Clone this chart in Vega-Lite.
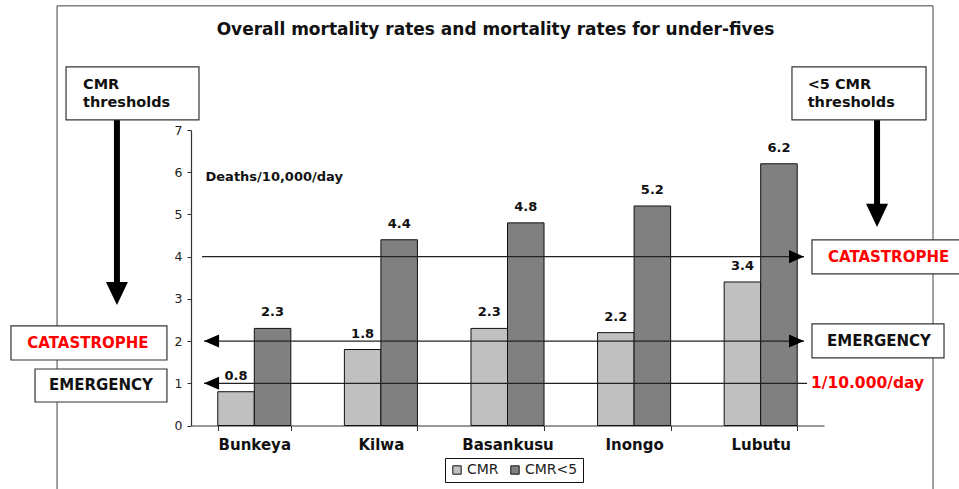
{
  "$schema": "https://vega.github.io/schema/vega-lite/v6.json",
  "width": 633,
  "height": 295.5,
  "autosize": {"type": "none"},
  "padding": {"left": 191, "top": 130, "right": 135, "bottom": 63.5},
  "background": "white",
  "config": {"view": {"stroke": null}, "font": "DejaVu Sans"},
  "datasets": {
    "rates": [
      {"site": "Bunkeya", "series": "CMR", "value": 0.8},
      {"site": "Bunkeya", "series": "CMR<5", "value": 2.3},
      {"site": "Kilwa", "series": "CMR", "value": 1.8},
      {"site": "Kilwa", "series": "CMR<5", "value": 4.4},
      {"site": "Basankusu", "series": "CMR", "value": 2.3},
      {"site": "Basankusu", "series": "CMR<5", "value": 4.8},
      {"site": "Inongo", "series": "CMR", "value": 2.2},
      {"site": "Inongo", "series": "CMR<5", "value": 5.2},
      {"site": "Lubutu", "series": "CMR", "value": 3.4},
      {"site": "Lubutu", "series": "CMR<5", "value": 6.2}
    ],
    "frame": [{"u": -1.058, "u2": 5.861, "v": 9.941, "v2": -1.8}],
    "thresholds": [
      {"v": 4, "u": 0.087, "u2": 4.842},
      {"v": 2, "u": 0.103, "u2": 4.842},
      {"v": 1, "u": 0.103, "u2": 4.866}
    ],
    "heads": [
      {"u": 4.842, "v": 4, "dir": "right"},
      {"u": 4.842, "v": 2, "dir": "right"},
      {"u": 0.103, "v": 2, "dir": "left"},
      {"u": 0.103, "v": 1, "dir": "left"}
    ],
    "shafts": [
      {"u": -0.585, "v": 7.239, "v2": 3.377},
      {"u": 5.419, "v": 7.239, "v2": 5.225}
    ],
    "bigheads": [
      {"u": -0.585, "v": 2.855},
      {"u": 5.419, "v": 4.704}
    ],
    "boxes": [
      {"u": -0.987, "u2": 0.063, "v": 8.495, "v2": 7.239},
      {"u": 4.747, "u2": 5.806, "v": 8.495, "v2": 7.239},
      {"u": -1.422, "u2": -0.19, "v": 2.358, "v2": 1.552},
      {"u": -1.232, "u2": -0.19, "v": 1.339, "v2": 0.557},
      {"u": 4.905, "u2": 6.074, "v": 4.396, "v2": 3.59},
      {"u": 4.905, "u2": 5.948, "v": 2.405, "v2": 1.6}
    ],
    "notes": [
      {"label": "Overall mortality rates and mortality rates for under-fives", "u": 2.405, "v": 9.254, "kind": "title"},
      {"label": "CMR", "u": -0.853, "v": 8.069, "kind": "header"},
      {"label": "thresholds", "u": -0.853, "v": 7.642, "kind": "header"},
      {"label": "<5 CMR", "u": 4.871, "v": 8.069, "kind": "header"},
      {"label": "thresholds", "u": 4.871, "v": 7.642, "kind": "header"},
      {"label": "CATASTROPHE", "u": -0.814, "v": 1.955, "kind": "catastrophe"},
      {"label": "EMERGENCY", "u": -0.711, "v": 0.948, "kind": "emergency"},
      {"label": "CATASTROPHE", "u": 5.51, "v": 3.993, "kind": "catastrophe"},
      {"label": "EMERGENCY", "u": 5.434, "v": 2.002, "kind": "emergency"},
      {"label": "1/10.000/day", "u": 4.897, "v": 1.007, "kind": "baseline"}
    ]
  },
  "resolve": {"scale": {"x": "independent", "y": "independent"}},
  "layer": [
    {
      "data": {"name": "frame"},
      "mark": {"type": "rect", "fill": "transparent", "stroke": "#444", "strokeWidth": 1},
      "encoding": {
        "x": {"field": "u", "type": "quantitative", "scale": {"domain": [0, 5], "nice": false, "zero": false}, "axis": null},
        "x2": {"field": "u2"},
        "y": {"field": "v", "type": "quantitative", "scale": {"domain": [0, 7], "nice": false}, "axis": null},
        "y2": {"field": "v2"}
      }
    },
    {
      "data": {"name": "rates"},
      "mark": {"type": "bar", "stroke": "#111", "strokeWidth": 1},
      "encoding": {
        "x": {
          "field": "site", "type": "nominal",
          "sort": ["Bunkeya", "Kilwa", "Basankusu", "Inongo", "Lubutu"],
          "scale": {"paddingInner": 0.423, "paddingOuter": 0.2115},
          "axis": {
            "title": null, "labelAngle": 0, "labelFont": "DejaVu Sans", "labelFontWeight": "bold",
            "labelFontSize": 15, "labelColor": "#111", "labelPadding": 7, "tickBand": "extent",
            "tickSize": 5, "tickColor": "#333", "domainColor": "#333", "domainWidth": 1.2
          }
        },
        "xOffset": {"field": "series", "type": "nominal", "sort": ["CMR", "CMR<5"]},
        "y": {
          "field": "value", "type": "quantitative",
          "scale": {"domain": [0, 7], "nice": false},
          "axis": {
            "values": [0, 1, 2, 3, 4, 5, 6, 7], "grid": false, "tickSize": 4, "labelPadding": 5,
            "labelFontSize": 12.5, "labelColor": "#222", "tickColor": "#333", "domainColor": "#333", "domainWidth": 1.2,
            "title": "Deaths/10,000/day", "titleAngle": 0, "titleAlign": "left", "titleBaseline": "middle",
            "titleX": 14, "titleY": 46.5, "titleFontSize": 13, "titleFontWeight": "bold", "titleColor": "#111",
            "titleFont": "DejaVu Sans"
          }
        },
        "color": {
          "field": "series", "type": "nominal",
          "scale": {"domain": ["CMR", "CMR<5"], "range": ["#c0c0c0", "#808080"]},
          "legend": {
            "title": null, "orient": "none", "legendX": 254, "legendY": 328, "direction": "horizontal",
            "fillColor": "white", "strokeColor": "#111", "padding": 5, "symbolType": "square",
            "symbolSize": 70, "symbolStrokeColor": "#111", "symbolStrokeWidth": 1,
            "labelFontSize": 14, "labelColor": "#222", "labelFont": "DejaVu Sans", "columnPadding": 9,
            "labelOffset": 3
          }
        }
      }
    },
    {
      "data": {"name": "rates"},
      "mark": {"type": "text", "baseline": "middle", "dy": -16, "fontSize": 13, "fontWeight": "bold", "color": "#111"},
      "encoding": {
        "x": {
          "field": "site", "type": "nominal",
          "sort": ["Bunkeya", "Kilwa", "Basankusu", "Inongo", "Lubutu"],
          "scale": {"paddingInner": 0.423, "paddingOuter": 0.2115},
          "axis": null
        },
        "xOffset": {"field": "series", "type": "nominal", "sort": ["CMR", "CMR<5"]},
        "y": {"field": "value", "type": "quantitative", "scale": {"domain": [0, 7], "nice": false}, "axis": null},
        "text": {"field": "value", "type": "quantitative", "format": ".1f"}
      }
    },
    {
      "data": {"name": "thresholds"},
      "mark": {"type": "rule", "color": "#222", "strokeWidth": 1.2},
      "encoding": {
        "x": {"field": "u", "type": "quantitative", "scale": {"domain": [0, 5], "nice": false, "zero": false}, "axis": null},
        "x2": {"field": "u2"},
        "y": {"field": "v", "type": "quantitative", "scale": {"domain": [0, 7], "nice": false}, "axis": null}
      }
    },
    {
      "data": {"name": "heads"},
      "mark": {"type": "point", "filled": true, "color": "#000", "opacity": 1, "size": 225},
      "encoding": {
        "x": {"field": "u", "type": "quantitative", "scale": {"domain": [0, 5], "nice": false, "zero": false}, "axis": null},
        "y": {"field": "v", "type": "quantitative", "scale": {"domain": [0, 7], "nice": false}, "axis": null},
        "shape": {
          "field": "dir", "type": "nominal",
          "scale": {"domain": ["right", "left"], "range": ["M-2,-0.87L0,0L-2,0.87Z", "M2,-0.87L0,0L2,0.87Z"]},
          "legend": null
        }
      }
    },
    {
      "data": {"name": "shafts"},
      "mark": {"type": "rule", "color": "#000", "strokeWidth": 6},
      "encoding": {
        "x": {"field": "u", "type": "quantitative", "scale": {"domain": [0, 5], "nice": false, "zero": false}, "axis": null},
        "y": {"field": "v", "type": "quantitative", "scale": {"domain": [0, 7], "nice": false}, "axis": null},
        "y2": {"field": "v2"}
      }
    },
    {
      "data": {"name": "bigheads"},
      "mark": {"type": "point", "filled": true, "color": "#000", "opacity": 1, "size": 484, "shape": "M-1,-2.1L1,-2.1L0,0Z"},
      "encoding": {
        "x": {"field": "u", "type": "quantitative", "scale": {"domain": [0, 5], "nice": false, "zero": false}, "axis": null},
        "y": {"field": "v", "type": "quantitative", "scale": {"domain": [0, 7], "nice": false}, "axis": null}
      }
    },
    {
      "data": {"name": "boxes"},
      "mark": {"type": "rect", "fill": "white", "stroke": "#333", "strokeWidth": 1.2},
      "encoding": {
        "x": {"field": "u", "type": "quantitative", "scale": {"domain": [0, 5], "nice": false, "zero": false}, "axis": null},
        "x2": {"field": "u2"},
        "y": {"field": "v", "type": "quantitative", "scale": {"domain": [0, 7], "nice": false}, "axis": null},
        "y2": {"field": "v2"}
      }
    },
    {
      "data": {"name": "notes"},
      "transform": [{"filter": "datum.kind === 'title'"}],
      "mark": {"type": "text", "align": "center", "baseline": "alphabetic", "fontSize": 17, "fontWeight": "bold", "color": "#111"},
      "encoding": {
        "x": {"field": "u", "type": "quantitative", "scale": {"domain": [0, 5], "nice": false, "zero": false}, "axis": null},
        "y": {"field": "v", "type": "quantitative", "scale": {"domain": [0, 7], "nice": false}, "axis": null},
        "text": {"field": "label"}
      }
    },
    {
      "data": {"name": "notes"},
      "transform": [{"filter": "datum.kind === 'header'"}],
      "mark": {"type": "text", "align": "left", "baseline": "middle", "fontSize": 14.5, "fontWeight": "bold", "color": "#111"},
      "encoding": {
        "x": {"field": "u", "type": "quantitative", "scale": {"domain": [0, 5], "nice": false, "zero": false}, "axis": null},
        "y": {"field": "v", "type": "quantitative", "scale": {"domain": [0, 7], "nice": false}, "axis": null},
        "text": {"field": "label"}
      }
    },
    {
      "data": {"name": "notes"},
      "transform": [{"filter": "datum.kind === 'emergency'"}],
      "mark": {"type": "text", "align": "center", "baseline": "middle", "fontSize": 15, "fontWeight": "bold", "color": "#111"},
      "encoding": {
        "x": {"field": "u", "type": "quantitative", "scale": {"domain": [0, 5], "nice": false, "zero": false}, "axis": null},
        "y": {"field": "v", "type": "quantitative", "scale": {"domain": [0, 7], "nice": false}, "axis": null},
        "text": {"field": "label"}
      }
    },
    {
      "data": {"name": "notes"},
      "transform": [{"filter": "datum.kind === 'catastrophe'"}],
      "mark": {"type": "text", "align": "center", "baseline": "middle", "fontSize": 15, "fontWeight": "bold", "color": "#ff0000"},
      "encoding": {
        "x": {"field": "u", "type": "quantitative", "scale": {"domain": [0, 5], "nice": false, "zero": false}, "axis": null},
        "y": {"field": "v", "type": "quantitative", "scale": {"domain": [0, 7], "nice": false}, "axis": null},
        "text": {"field": "label"}
      }
    },
    {
      "data": {"name": "notes"},
      "transform": [{"filter": "datum.kind === 'baseline'"}],
      "mark": {"type": "text", "align": "left", "baseline": "middle", "fontSize": 15.5, "fontWeight": "bold", "color": "#ff0000"},
      "encoding": {
        "x": {"field": "u", "type": "quantitative", "scale": {"domain": [0, 5], "nice": false, "zero": false}, "axis": null},
        "y": {"field": "v", "type": "quantitative", "scale": {"domain": [0, 7], "nice": false}, "axis": null},
        "text": {"field": "label"}
      }
    }
  ]
}
